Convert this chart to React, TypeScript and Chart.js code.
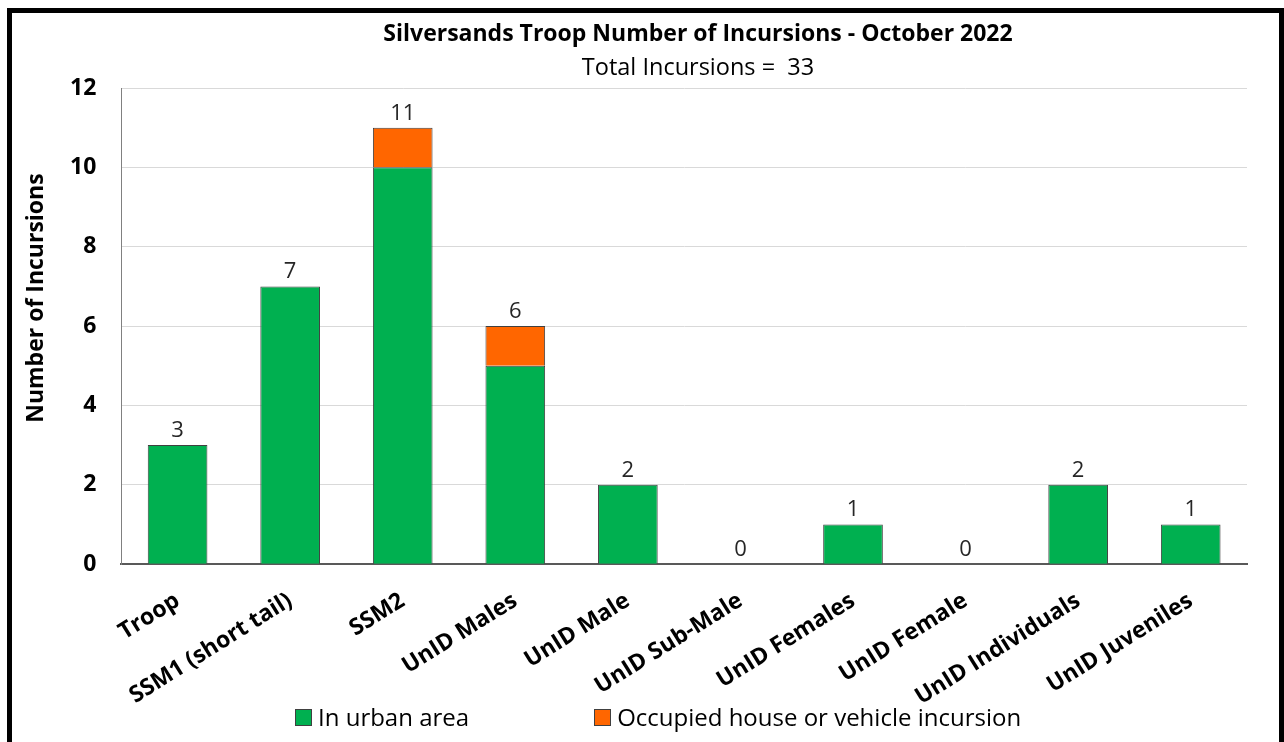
import React, { useEffect, useRef } from "react";
import { Chart, registerables } from "chart.js";

Chart.register(...registerables);

const categories = [
  "Troop",
  "SSM1 (short tail)",
  "SSM2",
  "UnID Males",
  "UnID Male",
  "UnID Sub-Male",
  "UnID Females",
  "UnID Female",
  "UnID Individuals",
  "UnID Juveniles",
];
const urbanArea = [3, 7, 10, 5, 2, 0, 1, 0, 2, 1];
const occupiedIncursion = [0, 0, 1, 1, 0, 0, 0, 0, 0, 0];
const seriesNames = ["In urban area", "Occupied house or vehicle incursion"];
const seriesColors = ["#00B050", "#FF6600"];
const titleText = "Silversands Troop Number of Incursions - October 2022";
const subtitleText = "Total Incursions =  33";
const yTitle = "Number of Incursions";
const yMin = 0;
const yMax = 12;
const yStep = 2;

const FONT = "'Open Sans', sans-serif";

const annotationsPlugin = {
  id: "annotations",
  afterDatasetsDraw(chart: any) {
    const { ctx, scales, chartArea } = chart;
    const xs = scales.x;
    const ys = scales.y;
    ctx.save();
    // totals above stacks
    ctx.font = `22px ${FONT}`;
    ctx.fillStyle = "#262626";
    ctx.textAlign = "center";
    ctx.textBaseline = "alphabetic";
    categories.forEach((_, i) => {
      const total = urbanArea[i] + occupiedIncursion[i];
      const x = xs.getPixelForValue(i);
      const y = ys.getPixelForValue(total);
      ctx.fillText(String(total), x, y - 8);
    });
    // title and subtitle
    const cx = 698;
    ctx.fillStyle = "#000";
    ctx.font = `bold 23px ${FONT}`;
    ctx.fillText(titleText, cx, 41);
    ctx.font = `23.5px ${FONT}`;
    ctx.fillText(subtitleText, cx, 75);
    // y-axis title
    ctx.font = `bold 23px ${FONT}`;
    ctx.textBaseline = "middle";
    ctx.translate(36, (chartArea.top + chartArea.bottom) / 2 - 28);
    ctx.rotate(-Math.PI / 2);
    ctx.fillText(yTitle, 0, 0);
    ctx.restore();
  },
};

export default function App() {
  const canvasRef = useRef<HTMLCanvasElement | null>(null);

  useEffect(() => {
    if (!canvasRef.current) return;
    const chart = new Chart(canvasRef.current, {
      type: "bar",
      data: {
        labels: categories,
        datasets: [
          {
            label: seriesNames[0],
            data: urbanArea,
            backgroundColor: seriesColors[0],
            borderColor: "#404040",
            borderWidth: 1,
            barPercentage: 0.53,
            categoryPercentage: 1,
          },
          {
            label: seriesNames[1],
            data: occupiedIncursion,
            backgroundColor: seriesColors[1],
            borderColor: "#404040",
            borderWidth: 1,
            barPercentage: 0.53,
            categoryPercentage: 1,
          },
        ],
      },
      options: {
        animation: false,
        responsive: false,
        maintainAspectRatio: false,
        layout: { padding: { left: 45, right: 37, top: 88, bottom: 8 } },
        plugins: {
          title: { display: false },
          subtitle: { display: false },
          legend: { display: false },
          tooltip: { enabled: false },
        },
        scales: {
          x: {
            stacked: true,
            grid: { display: false, drawTicks: false },
            border: { display: true, color: "#595959", width: 2 },
            ticks: {
              color: "#000",
              font: { family: FONT, size: 23, weight: "bold" },
              minRotation: 32,
              maxRotation: 32,
              padding: 23,
              autoSkip: false,
            },
          },
          y: {
            stacked: true,
            min: yMin,
            max: yMax,
            grid: { color: "#D9D9D9", drawTicks: false },
            border: { display: true, color: "#808080", width: 1 },
            ticks: {
              stepSize: yStep,
              color: "#000",
              font: { family: FONT, size: 23, weight: "bold" },
              padding: 25,
            },
          },
        },
      },
      plugins: [annotationsPlugin],
    });
    return () => chart.destroy();
  }, []);

  const legendItem = (i: number) => (
    <div style={{ display: "flex", alignItems: "center" }}>
      <span
        style={{
          display: "inline-block",
          width: 15,
          height: 15,
          background: seriesColors[i],
          border: "1px solid #404040",
          marginRight: 6,
        }}
      />
      <span style={{ fontFamily: FONT, fontSize: 24, color: "#000", lineHeight: "28px" }}>{seriesNames[i]}</span>
    </div>
  );

  return (
    <div style={{ position: "fixed", left: 0, top: 0, width: 1284, height: 742, background: "#fff", overflow: "hidden" }}>
      <canvas ref={canvasRef} width={1284} height={742} style={{ position: "absolute", left: 0, top: 0 }} />
      <div
        style={{
          position: "absolute",
          left: 295,
          top: 703,
          display: "flex",
          gap: 125,
          whiteSpace: "nowrap",
        }}
      >
        {legendItem(0)}
        {legendItem(1)}
      </div>
      <div
        style={{
          position: "absolute",
          left: 7,
          top: 8,
          width: 1267,
          height: 760,
          border: "5px solid #000",
          pointerEvents: "none",
        }}
      />
    </div>
  );
}
